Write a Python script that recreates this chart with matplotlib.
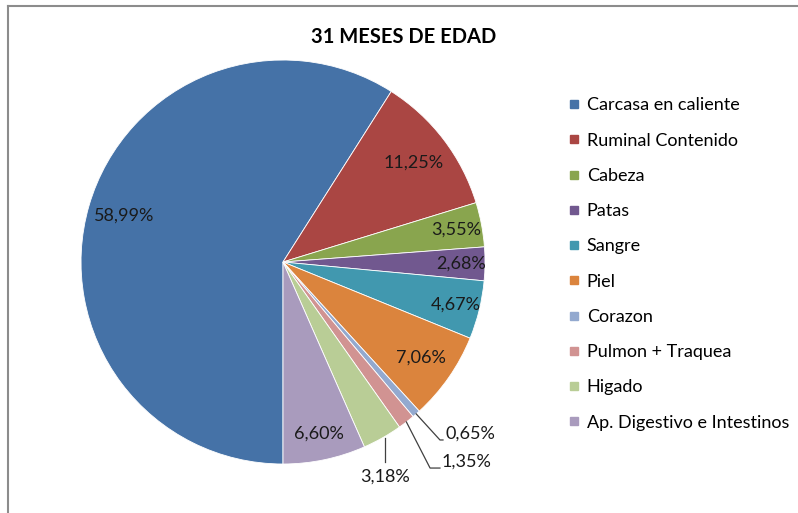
import numpy as np
import matplotlib.pyplot as plt
from matplotlib.lines import Line2D

plt.rcParams['font.family'] = ['Lato', 'DejaVu Sans']

title = "31 MESES DE EDAD"
categories = ["Carcasa en caliente", "Ruminal Contenido", "Cabeza", "Patas",
              "Sangre", "Piel", "Corazon", "Pulmon + Traquea", "Higado",
              "Ap. Digestivo e Intestinos"]
percent = [58.99, 11.25, 3.55, 2.68, 4.67, 7.06, 0.65, 1.35, 3.18, 6.60]
colors = ["#4572A7", "#AA4643", "#89A54E", "#71588F", "#4198AF",
          "#DB843D", "#93A9CF", "#D19392", "#B9CD96", "#A99BBD"]

# radial position of the inside labels (fraction of radius)
label_r = [0.82, 0.81, 0.87, 0.88, 0.88, 0.83, None, None, None, 0.87]

fig = plt.figure(figsize=(7.98, 5.13), dpi=100)
ax = fig.add_axes([0.1015, 0.0955, 0.5063, 0.7875])

wedges, _ = ax.pie(percent, colors=colors, startangle=270, counterclock=False,
                   radius=1.0, wedgeprops=dict(linewidth=0.6, edgecolor='white'))
ax.set_xlim(-1, 1)
ax.set_ylim(-1, 1)
ax.set_aspect('equal')
ax.axis('off')


def fmt(v):
    return ("%.2f%%" % v).replace('.', ',')


fs = 13
for i, (w, v) in enumerate(zip(wedges, percent)):
    mid = np.deg2rad((w.theta1 + w.theta2) / 2)
    r = label_r[i]
    if r is not None:
        ax.text(r * np.cos(mid), r * np.sin(mid), fmt(v), ha='center',
                va='center', fontsize=fs, color='#1a1a1a')

# leader-line labels for the thin slices
leader = {6: [(0.777, -0.881), (0.792, -0.881), (0.802, -0.851), 'left'],
          7: [(0.728, -1.020), (0.777, -1.020), (0.787, -0.990), 'left'],
          8: [(0.505, -0.990), None, (0.505, -1.064), 'center']}
for i, (elbow, end, tpos, ha) in leader.items():
    w = wedges[i]
    mid = np.deg2rad((w.theta1 + w.theta2) / 2)
    x0, y0 = np.cos(mid), np.sin(mid)
    if i == 8:
        x0 = elbow[0]
        y0 = -0.871
    xs = [x0, elbow[0]] + ([end[0]] if end else [])
    ys = [y0, elbow[1]] + ([end[1]] if end else [])
    ax.plot(xs, ys, color='#404040', lw=0.9, clip_on=False)
    ax.text(tpos[0], tpos[1], fmt(percent[i]), ha=ha, va='center',
            fontsize=fs, color='#1a1a1a', clip_on=False)

fig.text(0.506, 0.928, title, ha='center', va='center', fontsize=14.5,
         fontweight='bold', color='black')

handles = [Line2D([], [], marker='s', linestyle='', markersize=6,
                  markerfacecolor=c, markeredgecolor=c) for c in colors]
fig.legend(handles, categories, loc='upper left',
           bbox_to_anchor=(0.7125, 0.81), frameon=False, fontsize=fs,
           handlelength=0.6, handletextpad=0.4, labelspacing=1.065,
           borderpad=0, borderaxespad=0)

# chart frame (top and left edges)
fig.add_artist(Line2D([8 / 798, 797 / 798], [1 - 6 / 513, 1 - 6 / 513],
                      transform=fig.transFigure, color='#8c8c8c', lw=1.5))
fig.add_artist(Line2D([8 / 798, 8 / 798], [0, 1 - 6 / 513],
                      transform=fig.transFigure, color='#8c8c8c', lw=1.5))

fig.savefig('out.png', dpi=100)
